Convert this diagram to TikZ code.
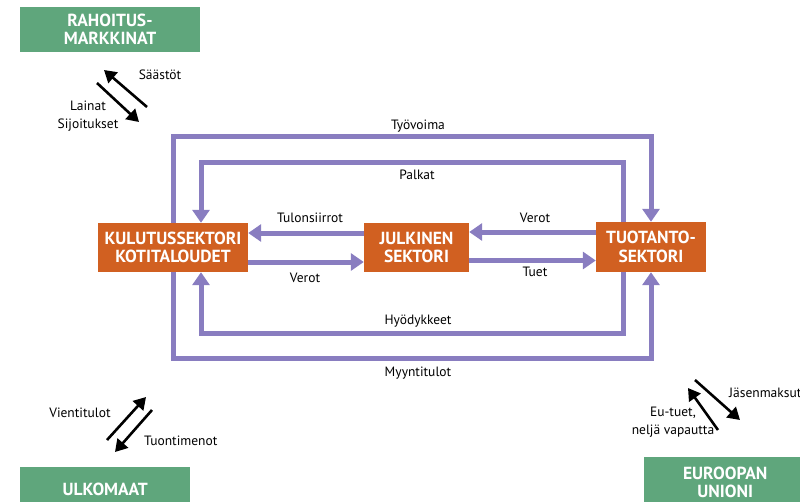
\documentclass[tikz,border=0pt]{standalone}
\usepackage{fontspec}
\setmainfont{PT Sans}
\usetikzlibrary{arrows.meta}
\definecolor{pur}{RGB}{137,125,192}
\definecolor{org}{RGB}{209,96,33}
\definecolor{grn}{RGB}{95,166,124}
\tikzset{
  obox/.style={fill=org, text=white, font=\bfseries\fontsize{17.5}{18.5}\selectfont, align=center, inner sep=0pt, minimum height=49pt},
  gbox/.style={fill=grn, text=white, font=\bfseries\fontsize{17.5}{17.5}\selectfont, align=center, inner sep=0pt},
  pline/.style={draw=pur, line width=5pt, line join=miter},
  parr/.style={pline, -{Triangle[width=17pt,length=13pt]}},
  barr/.style={draw=black, line width=2.6pt, -{Triangle[width=14pt,length=12pt]}},
  lab/.style={font=\fontsize{13.5}{18}\selectfont, inner sep=0pt, align=center},
}
\begin{document}
\begin{tikzpicture}[x=1pt,y=-1pt]
\useasboundingbox (0,0) rectangle (800,501);
% boxes
\node[gbox, minimum width=180pt, minimum height=45pt] (rah) at (110,29.5) {RAHOITUS-\\MARKKINAT};
\node[obox, minimum width=150pt] (kul) at (173,247.5) {KULUTUSSEKTORI\\KOTITALOUDET};
\node[obox, minimum width=105pt] (jul) at (416.5,247.5) {JULKINEN\\SEKTORI};
\node[obox, minimum width=110pt, minimum height=50pt] (tuo) at (651,247) {TUOTANTO-\\SEKTORI};
\node[gbox, minimum width=170pt, minimum height=44pt, anchor=north west] (ulk) at (20,467) {ULKOMAAT};
\node[gbox, minimum width=162pt, minimum height=50pt, anchor=north west] (eu) at (644,457) {EUROOPAN\\UNIONI};
% outer / inner loops
\draw[parr] (kul.north) -- ++(0,-86) -| (tuo.north);
\draw[parr] ([xshift=-28pt]tuo.north) -- ++(0,-59) -| ([xshift=28pt]kul.north);
\draw[parr] ([xshift=-28pt]tuo.south) -- ++(0,61) -| ([xshift=28pt]kul.south);
\draw[parr] (kul.south) -- ++(0,86) -| (tuo.south);
% horizontal
\path ([yshift=15pt]tuo.west) coordinate (tw1) ([yshift=-13pt]jul.east) coordinate (je2);
\draw[parr] ([yshift=14.5pt]jul.west) -- ([yshift=14.5pt]kul.east);
\draw[parr] ([yshift=-14.5pt]kul.east) -- ([yshift=-14.5pt]jul.west);
\draw[parr] (tw1) -- (jul.east |- tw1);
\draw[parr] (je2) -- (tuo.west |- je2);
% labels
\node[lab] (l1) at (418,126) {Työvoima};
\node[lab] (l2) at (417,175) {Palkat};
\node[lab] (l3) at (310,218) {Tulonsiirrot};
\node[lab] (l4) at (305,278) {Verot};
\node[lab] (l5) at (535,218) {Verot};
\node[lab] (l6) at (535,272) {Tuet};
\node[lab] (l7) at (418,321) {Hyödykkeet};
\node[lab] (l8) at (418,373) {Myyntitulot};
% black arrows top-left
\coordinate (a1s) at (147,107); \coordinate (a1e) at (104,70);
\coordinate (a2s) at (97,83); \coordinate (a2e) at (139,122);
\draw[barr] (a1s) -- (a1e);
\draw[barr] (a2s) -- (a2e);
\node[lab] (sa) at (160,75) {Säästöt};
\node[lab] (la) at (88,116) {Lainat\\Sijoitukset};
% bottom-left
\coordinate (b1s) at (107,440); \coordinate (b1e) at (146,397);
\coordinate (b2s) at (152,410); \coordinate (b2e) at (115,452);
\draw[barr] (b1s) -- (b1e);
\draw[barr] (b2s) -- (b2e);
\node[lab] (vi) at (80,413) {Vientitulot};
\node[lab, anchor=west] (tu) at (144,441) {Tuontimenot};
% bottom-right
\coordinate (c1s) at (718,430); \coordinate (c1e) at (688,388);
\coordinate (c2s) at (695,380); \coordinate (c2e) at (740,420);
\draw[barr] (c1s) -- (c1e);
\draw[barr] (c2s) -- (c2e);
\node[lab, anchor=west] (ja) at (729,393) {Jäsenmaksut};
\node[lab] (et) at (673,422) {Eu-tuet,\\neljä vapautta};
\end{tikzpicture}
\end{document}
